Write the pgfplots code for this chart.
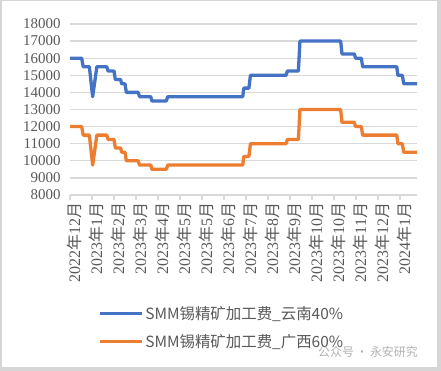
\documentclass[border=0pt]{standalone}
\usepackage{pgfplots}
\pgfplotsset{compat=1.18}
\usepackage{fontspec}
\setmainfont{Liberation Serif}
\newfontfamily\cjk{Noto Sans CJK SC}
\definecolor{cblue}{HTML}{4472C4}
\definecolor{corange}{HTML}{ED7D31}
\definecolor{tgray}{HTML}{595959}
\definecolor{ggray}{HTML}{D9D9D9}
\definecolor{fgray}{HTML}{D6D6D6}
\newcommand\ym[2]{#1{\cjk 年}#2{\cjk 月}}
\begin{document}
\begin{tikzpicture}
\fill[fgray] (0,0) rectangle (441bp,371bp);
\fill[white] (1.5bp,4bp) rectangle (437bp,370bp);
\begin{axis}[
  at={(70bp,176bp)}, anchor=south west,
  scale only axis, width=347bp, height=171bp,
  xmin=0, xmax=15.77, ymin=8000, ymax=18000,
  ytick={8000,9000,...,18000},
  scaled y ticks=false,
  xtick={0,...,15},
  xticklabels={\ym{2022}{12},\ym{2023}{1},\ym{2023}{2},\ym{2023}{3},\ym{2023}{4},\ym{2023}{5},\ym{2023}{5},\ym{2023}{6},\ym{2023}{7},\ym{2023}{8},\ym{2023}{9},\ym{2023}{10},\ym{2023}{10},\ym{2023}{11},\ym{2023}{12},\ym{2024}{1}},
  /pgf/number format/assume math mode=true,
  /pgf/number format/1000 sep={},
  axis line style={draw=none},
  ymajorgrids, grid style={ggray, line width=1.3bp},
  ytick style={draw=none},
  xtick align=outside, xtick pos=bottom,
  xtick style={ggray, line width=1.2bp},
  major tick length=4.5bp,
  yticklabel style={font=\fontsize{15}{16}\selectfont, text=tgray, xshift=-6bp},
  xticklabel style={font=\fontsize{16}{16}\selectfont, text=tgray, rotate=90, anchor=east, yshift=-4bp},
  legend style={at={(0.081,-0.64)}, anchor=north west, draw=none, fill=none, inner sep=0pt,
    font=\cjk\fontsize{15.5}{17}\selectfont, text=tgray, row sep=9bp, cells={anchor=west}},
  legend image code/.code={\draw[#1, line width=3bp] (0bp,0bp) -- (42bp,0bp);},
  clip=false,
]
\draw[ggray, line width=1.3bp] (axis cs:0,8000) -- (axis cs:15.77,8000);
\addplot[cblue, line width=3.3bp, line join=round] coordinates {
(0,16000) (0.53,16000) (0.6,15500) (0.88,15500) (1.03,13750) (1.22,15500) (1.67,15500) (1.73,15250) (2.0,15250) (2.06,14750) (2.3,14750) (2.35,14500) (2.5,14500) (2.56,14000) (3.1,14000) (3.16,13750) (3.67,13750) (3.72,13500) (4.38,13500) (4.44,13750) (7.85,13750) (7.9,14250) (8.13,14250) (8.2,15000) (9.82,15000) (9.88,15250) (10.38,15250) (10.45,17000) (12.3,17000) (12.36,16250) (12.92,16250) (12.98,16000) (13.24,16000) (13.3,15500) (14.85,15500) (14.9,15000) (15.1,15000) (15.17,14500) (15.77,14500)
};
\addlegendentry{SMM锡精矿加工费\_云南40\%}
\addplot[corange, line width=3.3bp, line join=round] coordinates {
(0,12000) (0.53,12000) (0.6,11500) (0.88,11500) (1.03,9750) (1.22,11500) (1.67,11500) (1.73,11250) (2.0,11250) (2.06,10750) (2.3,10750) (2.35,10500) (2.5,10500) (2.56,10000) (3.1,10000) (3.16,9750) (3.67,9750) (3.72,9500) (4.38,9500) (4.44,9750) (7.85,9750) (7.9,10250) (8.13,10250) (8.2,11000) (9.82,11000) (9.88,11250) (10.38,11250) (10.45,13000) (12.3,13000) (12.36,12250) (12.92,12250) (12.98,12000) (13.24,12000) (13.3,11500) (14.85,11500) (14.9,11000) (15.1,11000) (15.17,10500) (15.77,10500)
};
\addlegendentry{SMM锡精矿加工费\_广西60\%}
\end{axis}
\node[anchor=west, text=black!30, font=\cjk\fontsize{12}{13}\selectfont, inner sep=0pt] at (318bp,19bp) {公众号\,·\,永安研究};
\end{tikzpicture}
\end{document}
